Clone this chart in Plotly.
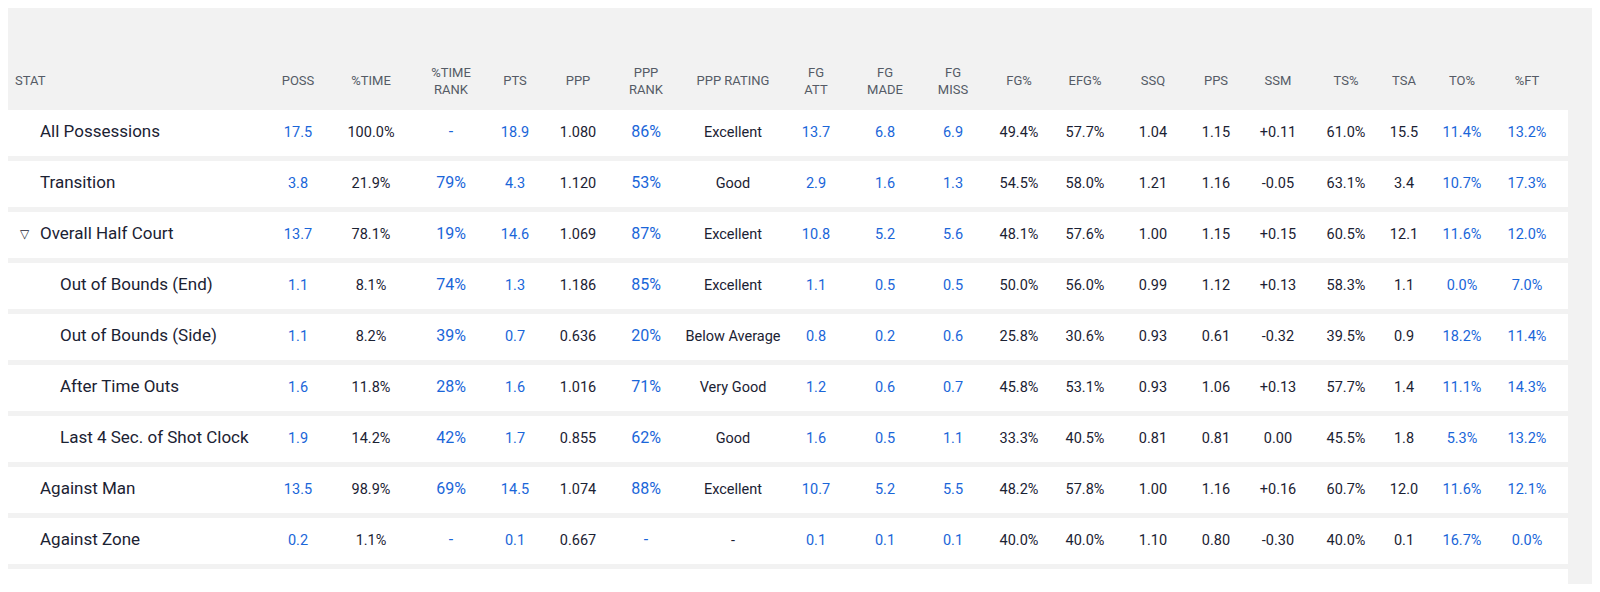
import plotly.graph_objects as go

stat_labels = ["All Possessions", "Transition", "Overall Half Court", "Out of Bounds (End)",
               "Out of Bounds (Side)", "After Time Outs", "Last 4 Sec. of Shot Clock",
               "Against Man", "Against Zone"]
indent = [0, 0, 0, 1, 1, 1, 1, 0, 0]
headers = ["POSS", "%TIME", "%TIME<br>RANK", "PTS", "PPP", "PPP<br>RANK", "PPP RATING", "FG<br>ATT",
           "FG<br>MADE", "FG<br>MISS", "FG%", "EFG%", "SSQ", "PPS", "SSM", "TS%", "TSA", "TO%", "%FT"]
poss = ["17.5", "3.8", "13.7", "1.1", "1.1", "1.6", "1.9", "13.5", "0.2"]
pct_time = ["100.0%", "21.9%", "78.1%", "8.1%", "8.2%", "11.8%", "14.2%", "98.9%", "1.1%"]
time_rank = ["-", "79%", "19%", "74%", "39%", "28%", "42%", "69%", "-"]
pts = ["18.9", "4.3", "14.6", "1.3", "0.7", "1.6", "1.7", "14.5", "0.1"]
ppp = ["1.080", "1.120", "1.069", "1.186", "0.636", "1.016", "0.855", "1.074", "0.667"]
ppp_rank = ["86%", "53%", "87%", "85%", "20%", "71%", "62%", "88%", "-"]
ppp_rating = ["Excellent", "Good", "Excellent", "Excellent", "Below Average", "Very Good", "Good", "Excellent", "-"]
fg_att = ["13.7", "2.9", "10.8", "1.1", "0.8", "1.2", "1.6", "10.7", "0.1"]
fg_made = ["6.8", "1.6", "5.2", "0.5", "0.2", "0.6", "0.5", "5.2", "0.1"]
fg_miss = ["6.9", "1.3", "5.6", "0.5", "0.6", "0.7", "1.1", "5.5", "0.1"]
fg_pct = ["49.4%", "54.5%", "48.1%", "50.0%", "25.8%", "45.8%", "33.3%", "48.2%", "40.0%"]
efg_pct = ["57.7%", "58.0%", "57.6%", "56.0%", "30.6%", "53.1%", "40.5%", "57.8%", "40.0%"]
ssq = ["1.04", "1.21", "1.00", "0.99", "0.93", "0.93", "0.81", "1.00", "1.10"]
pps = ["1.15", "1.16", "1.15", "1.12", "0.61", "1.06", "0.81", "1.16", "0.80"]
ssm = ["+0.11", "-0.05", "+0.15", "+0.13", "-0.32", "+0.13", "0.00", "+0.16", "-0.30"]
ts_pct = ["61.0%", "63.1%", "60.5%", "58.3%", "39.5%", "57.7%", "45.5%", "60.7%", "40.0%"]
tsa = ["15.5", "3.4", "12.1", "1.1", "0.9", "1.4", "1.8", "12.0", "0.1"]
to_pct = ["11.4%", "10.7%", "11.6%", "0.0%", "18.2%", "11.1%", "5.3%", "11.6%", "16.7%"]
ft_pct = ["13.2%", "17.3%", "12.0%", "7.0%", "11.4%", "14.3%", "13.2%", "12.1%", "0.0%"]

columns = [poss, pct_time, time_rank, pts, ppp, ppp_rank, ppp_rating, fg_att, fg_made, fg_miss,
           fg_pct, efg_pct, ssq, pps, ssm, ts_pct, tsa, to_pct, ft_pct]
blue_cols = {0, 2, 3, 5, 7, 8, 9, 17, 18}
rank_cols = {2, 5}

# layout (pixel positions in screen coordinates)
col_x = [298, 371, 451, 515, 578, 646, 733, 816, 885, 953, 1019, 1085, 1153, 1216, 1278, 1346, 1404, 1462, 1527]
row_y0 = 133
row_step = 51
header_y = 82
BLUE = "#1a66d9"
DARK = "#1b2233"
FONT = "Roboto"
OFF = 8  # page body margin

fig = go.Figure()
row_y = [row_y0 + i * row_step for i in range(len(stat_labels))]

for y in row_y + [row_y0 + len(stat_labels) * row_step]:
    fig.add_shape(type="rect", x0=8, x1=1568, y0=y - 23, y1=y + 23,
                  fillcolor="white", line_width=0, layer="below")

fig.add_trace(go.Scatter(
    x=[40 + 20 * i for i in indent], y=row_y, mode="text", text=stat_labels,
    textposition="middle right", textfont=dict(family=FONT, size=17, color=DARK),
    hoverinfo="skip", showlegend=False))
fig.add_trace(go.Scatter(
    x=[24], y=[row_y[2]], mode="text", text=["▽"], textfont=dict(family=FONT, size=12, color=DARK),
    hoverinfo="skip", showlegend=False))

for j, col in enumerate(columns):
    color = BLUE if j in blue_cols else DARK
    size = 16 if j in rank_cols else 14.5
    fig.add_trace(go.Scatter(
        x=[col_x[j]] * len(col), y=row_y, mode="text", text=col,
        textfont=dict(family=FONT, size=size, color=color),
        hoverinfo="skip", showlegend=False))

fig.add_trace(go.Scatter(
    x=col_x, y=[header_y] * len(headers), mode="text", text=headers,
    textfont=dict(family=FONT, size=13, color="#555b66"), hoverinfo="skip", showlegend=False))
fig.add_trace(go.Scatter(
    x=[15], y=[header_y], mode="text", text=["STAT"], textposition="middle right",
    textfont=dict(family=FONT, size=13, color="#555b66"), hoverinfo="skip", showlegend=False))

fig.add_annotation(x=2, y=18, xref="x", yref="y", text="<b>OVERALL</b>", showarrow=False,
                   xanchor="left", font=dict(family=FONT, size=24, color="#2d5f8c"))

fig.update_layout(
    width=1600 - 2 * OFF, height=592 - 2 * OFF, margin=dict(l=0, r=0, t=0, b=0),
    paper_bgcolor="#f2f2f2", plot_bgcolor="#f2f2f2",
    xaxis=dict(range=[OFF, 1600 - OFF], visible=False, fixedrange=True),
    yaxis=dict(range=[592 - OFF, OFF], visible=False, fixedrange=True),
)
fig.write_html("out.html")
